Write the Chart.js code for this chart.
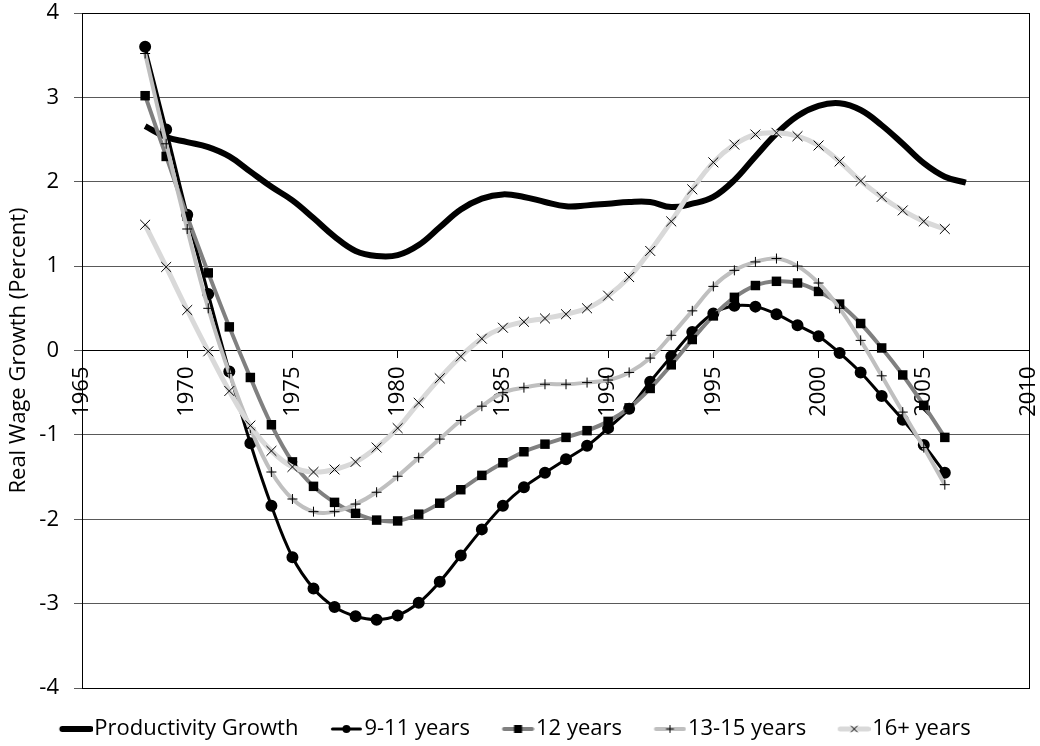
<!DOCTYPE html>
<html>
<head>
<meta charset="utf-8">
<script src="https://cdn.jsdelivr.net/npm/chart.js@4.4.1/dist/chart.umd.min.js"></script>
<style>
    html, body { margin: 0; padding: 0; background: #fff; }
    #wrap { width: 1040px; height: 746px; position: relative; }
</style>
</head>
<body>
<div id="wrap"><canvas id="wageChart"></canvas></div>
<script>
// Years and series
const years = [1968, 1969, 1970, 1971, 1972, 1973, 1974, 1975, 1976, 1977,
    1978, 1979, 1980, 1981, 1982, 1983, 1984, 1985, 1986, 1987,
    1988, 1989, 1990, 1991, 1992, 1993, 1994, 1995, 1996, 1997,
    1998, 1999, 2000, 2001, 2002, 2003, 2004, 2005, 2006];
const prodYears = years.concat([2007]);

const productivity = [2.66, 2.53, 2.47, 2.41, 2.30, 2.12, 1.94, 1.78, 1.57, 1.35,
    1.18, 1.12, 1.13, 1.25, 1.46, 1.67, 1.80, 1.85, 1.82, 1.76,
    1.71, 1.72, 1.74, 1.76, 1.76, 1.70, 1.74, 1.82, 2.02, 2.30,
    2.57, 2.78, 2.90, 2.93, 2.85, 2.67, 2.45, 2.22, 2.06, 1.99];
const yrs9to11 = [3.60, 2.62, 1.61, 0.67, -0.25, -1.10, -1.84, -2.45, -2.82, -3.04,
    -3.15, -3.19, -3.14, -2.99, -2.74, -2.43, -2.12, -1.84, -1.62, -1.45,
    -1.29, -1.13, -0.92, -0.69, -0.37, -0.07, 0.22, 0.44, 0.53, 0.52,
    0.43, 0.30, 0.17, -0.03, -0.26, -0.54, -0.82, -1.12, -1.45];
const yrs12 = [3.02, 2.30, 1.59, 0.92, 0.28, -0.32, -0.88, -1.32, -1.61, -1.80,
    -1.93, -2.01, -2.02, -1.94, -1.81, -1.65, -1.48, -1.33, -1.20, -1.11,
    -1.03, -0.95, -0.84, -0.68, -0.45, -0.17, 0.13, 0.41, 0.63, 0.77,
    0.82, 0.80, 0.70, 0.55, 0.32, 0.03, -0.29, -0.65, -1.03];
const yrs13to15 = [3.52, 2.45, 1.44, 0.50, -0.27, -0.92, -1.44, -1.76, -1.91, -1.91,
    -1.82, -1.68, -1.49, -1.27, -1.05, -0.83, -0.66, -0.50, -0.44, -0.40,
    -0.40, -0.38, -0.35, -0.26, -0.09, 0.18, 0.47, 0.76, 0.95, 1.05,
    1.09, 1.00, 0.80, 0.50, 0.12, -0.30, -0.73, -1.15, -1.59];
const yrs16plus = [1.49, 0.99, 0.48, -0.01, -0.48, -0.89, -1.19, -1.38, -1.44, -1.41,
    -1.32, -1.15, -0.92, -0.62, -0.33, -0.07, 0.14, 0.27, 0.34, 0.38,
    0.43, 0.50, 0.65, 0.87, 1.18, 1.53, 1.91, 2.23, 2.44, 2.56,
    2.58, 2.54, 2.43, 2.24, 2.01, 1.82, 1.66, 1.53, 1.44];

const FONT = '"Open Sans", Lato, sans-serif';
const FSIZE = 22;

function toPoints(xs, ys) {
    return ys.map((v, i) => ({ x: xs[i], y: v }));
}

// little legend sample: line with the marker in the middle,
// shifted right inside the canvas so it sits close to the text
function legendIcon(color, width, marker) {
    const c = document.createElement('canvas');
    c.width = 44; c.height = 14;
    const g = c.getContext('2d');
    const mid = 27.5;
    g.strokeStyle = color;
    g.lineWidth = width;
    g.lineCap = 'round';
    g.beginPath();
    g.moveTo(13.5, 7); g.lineTo(41.5, 7);
    g.stroke();
    g.fillStyle = '#000';
    g.strokeStyle = '#000';
    g.lineWidth = 1;
    if (marker === 'circle') {
        g.beginPath(); g.arc(mid, 7, 4, 0, Math.PI * 2); g.fill();
    } else if (marker === 'square') {
        g.fillRect(mid - 4, 3, 8, 8);
    } else if (marker === 'plus') {
        g.beginPath(); g.moveTo(mid, 3.5); g.lineTo(mid, 10.5); g.moveTo(mid - 3.5, 7); g.lineTo(mid + 3.5, 7); g.stroke();
    } else if (marker === 'x') {
        g.beginPath(); g.moveTo(mid - 3, 4); g.lineTo(mid + 3, 10); g.moveTo(mid + 3, 4); g.lineTo(mid - 3, 10); g.stroke();
    }
    return c;
}

const icons = [
    legendIcon('#000', 6, null),
    legendIcon('#000', 3, 'circle'),
    legendIcon('#808080', 4, 'square'),
    legendIcon('#bfbfbf', 4, 'plus'),
    legendIcon('#d9d9d9', 5, 'x')
];

// plot frame
const frame = {
    id: 'frame',
    beforeDatasetsDraw(chart) {
        const a = chart.chartArea;
        const ctx = chart.ctx;
        ctx.save();
        ctx.strokeStyle = '#000';
        ctx.lineWidth = 1;
        ctx.strokeRect(Math.round(a.left) + 0.5, Math.round(a.top) + 0.5,
            Math.round(a.right - a.left), Math.round(a.bottom - a.top));
        ctx.restore();
    }
};

const ctx = document.getElementById('wageChart').getContext('2d');
new Chart(ctx, {
    type: 'line',
    data: {
        datasets: [{
            label: 'Productivity Growth',
            data: toPoints(prodYears, productivity),
            borderColor: '#000',
            borderWidth: 6,
            pointRadius: 0,
            tension: 0.4,
            order: 5
        }, {
            label: '9-11 years',
            data: toPoints(years, yrs9to11),
            borderColor: '#000',
            borderWidth: 3,
            pointStyle: 'circle',
            pointRadius: 4.5,
            pointBackgroundColor: '#000',
            pointBorderColor: '#000',
            tension: 0.4,
            order: 4
        }, {
            label: '12 years',
            data: toPoints(years, yrs12),
            borderColor: '#808080',
            borderWidth: 4,
            pointStyle: 'rect',
            pointRadius: 6.7,
            pointBackgroundColor: '#000',
            pointBorderColor: '#000',
            pointBorderWidth: 0,
            tension: 0.4,
            order: 3
        }, {
            label: '13-15 years',
            data: toPoints(years, yrs13to15),
            borderColor: '#bfbfbf',
            borderWidth: 4,
            pointStyle: 'cross',
            pointRadius: 5,
            pointBorderColor: '#000',
            pointBorderWidth: 1,
            tension: 0.4,
            order: 2
        }, {
            label: '16+ years',
            data: toPoints(years, yrs16plus),
            borderColor: '#d9d9d9',
            borderWidth: 5,
            pointStyle: 'crossRot',
            pointRadius: 7,
            pointBorderColor: '#000',
            pointBorderWidth: 1,
            tension: 0.4,
            order: 1
        }]
    },
    options: {
        responsive: true,
        maintainAspectRatio: false,
        animation: false,
        layout: { padding: { top: 13, right: 11, bottom: -4, left: 0 } },
        scales: {
            x: {
                type: 'linear',
                min: 1965,
                max: 2010,
                position: { y: 0 },
                ticks: {
                    stepSize: 5,
                    autoSkip: false,
                    maxRotation: 90,
                    minRotation: 90,
                    padding: 9,
                    color: '#000',
                    font: { family: FONT, size: FSIZE },
                    callback: v => String(v)
                },
                grid: { drawOnChartArea: false, tickLength: 7, color: '#000' },
                border: { color: '#000' },
                afterFit(scale) {
                    scale.paddingLeft = 0;
                    scale.paddingRight = 0;
                }
            },
            y: {
                min: -4,
                max: 4,
                ticks: {
                    stepSize: 1,
                    padding: 15,
                    color: '#000',
                    font: { family: FONT, size: FSIZE }
                },
                grid: { color: '#595959', tickLength: 8 },
                border: { color: '#000' },
                title: {
                    display: true,
                    text: 'Real Wage Growth (Percent)',
                    color: '#000',
                    font: { family: FONT, size: FSIZE },
                    padding: { top: 6, bottom: 0 }
                },
                afterFit(scale) {
                    scale.width = 82;
                    scale.paddingTop = 0;
                    scale.paddingBottom = 0;
                }
            }
        },
        plugins: {
            tooltip: { enabled: false },
            legend: {
                position: 'bottom',
                labels: {
                    usePointStyle: true,
                    pointStyleWidth: 25,
                    padding: 30,
                    color: '#000',
                    font: { family: FONT, size: FSIZE },
                    generateLabels(chart) {
                        return chart.data.datasets.map((ds, i) => ({
                            text: ds.label,
                            pointStyle: icons[i],
                            datasetIndex: i,
                            hidden: false,
                            fontColor: '#000',
                            lineWidth: 0
                        }));
                    }
                }
            }
        }
    },
    plugins: [frame]
});
</script>
</body>
</html>
